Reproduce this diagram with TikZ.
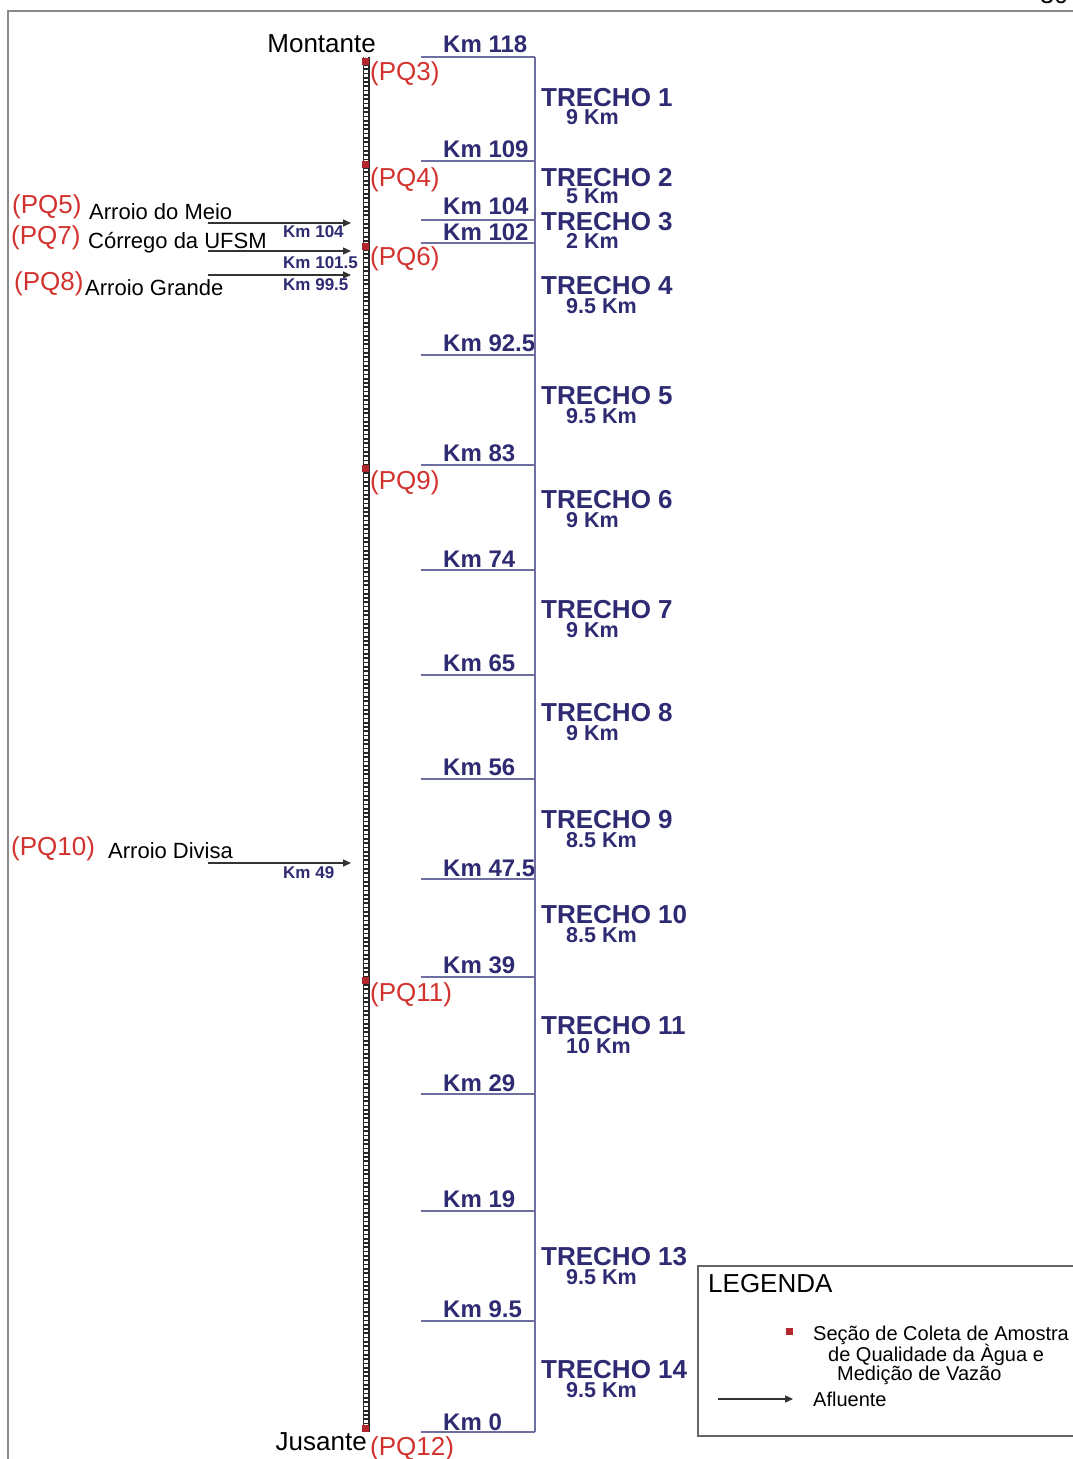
\documentclass[tikz,border=0pt]{standalone}
\usepackage{fontspec}
\setmainfont{Liberation Sans}
\usetikzlibrary{arrows.meta}
\definecolor{navy}{HTML}{2E2B72}
\definecolor{pqred}{HTML}{D2322E}
\definecolor{kmline}{HTML}{6E6EA0}
\definecolor{framegray}{HTML}{8A8A8A}
\definecolor{sample}{HTML}{B3262B}
\newcommand\fsz[1]{\fontsize{#1}{#1}\selectfont}
\begin{document}
\begin{tikzpicture}[x=1pt,y=-1pt,
 txt/.style={inner sep=0pt, anchor=base west},
 kmlab/.style={txt, font=\fsz{24}\bfseries, text=navy, text depth=0pt},
 trlab/.style={txt, font=\fsz{26}\bfseries, text=navy, text depth=0pt},
 trsub/.style={txt, font=\fsz{21.5}\bfseries, text=navy, text height=14pt},
 pqlab/.style={txt, font=\fsz{26}, text=pqred},
 triblab/.style={txt, font=\fsz{22}, text=black},
 kmsmall/.style={txt, font=\fsz{17}\bfseries, text=navy},
 kmtick/.style={draw=kmline, line width=1.3pt},
 afl/.style={draw=black!80, line width=1.4pt, -{Triangle[length=8pt,width=7pt]}},
 sq/.style={fill=sample, draw=none, minimum width=7pt, minimum height=7pt, inner sep=0pt},
 leg/.style={txt, font=\fsz{20}, text=black}
]
\useasboundingbox (0,0) rectangle (1073,1459);
% frame
\coordinate (f1) at (8,1470);
\coordinate (f2) at (8,11);
\coordinate (f3) at (1080,11);
\draw[framegray, line width=2pt] (f1) -- (f2) -- (f3);
\node[anchor=base east, inner sep=0pt, font=\fsz{25}] (pagenum) at (1068,3.5) {36};

% km ticks and labels
\foreach \y/\lab/\b [count=\i] in {57/118/52, 161/109/157, 220/104/214, 243/102/240, 355/92.5/351, 465/83/461, 570/74/567, 675/65/671, 779/56/775, 879/47.5/876, 977/39/973, 1094/29/1091, 1211/19/1207, 1321/9.5/1317, 1432/0/1430} {
  \coordinate (ta\i) at (421,\y);
  \coordinate (tb\i) at (535,\y);
  \draw[kmtick] (ta\i) -- (tb\i);
  \node[kmlab] (km\i) at (443,\b) {Km \lab};
}
\draw[kmtick] (tb1) -- (tb15);

% trechos
\foreach \n/\s/\ya/\yb [count=\i] in {1/9 Km/106/124, 2/5 Km/186/203, 3/2 Km/230/248, 4/9.5 Km/294/313, 5/9.5 Km/404/423, 6/9 Km/508/527, 7/9 Km/618/637, 8/9 Km/721/740, 9/8.5 Km/828/847, 10/8.5 Km/923/942, 11/10 Km/1034/1053, 13/9.5 Km/1265/1284, 14/9.5 Km/1378/1397} {
  \node[trlab] (tr\i) at (541,\ya) {TRECHO \n};
  \node[trsub] (trs\i) at (566,\yb) {\s};
}

% river bar
\coordinate (rtop) at (366,57);
\coordinate (rbot) at (366,1432);
\draw[black!85, line width=7pt] (rtop) -- (rbot);
\draw[white, line width=3.4pt, dash pattern=on 2.6pt off 1.7pt] (rtop) -- (rbot);
\foreach \y/\nm in {61/s3, 164/s4, 246/s6, 468/s9, 980/s11, 1428/s12} {
  \node[sq] (\nm) at (365,\y) {};
}
\node[txt, anchor=base east, font=\fsz{26}] (mont) at (376,52) {Montante};
\node[txt, anchor=base east, font=\fsz{26}] (jus) at (367,1450) {Jusante};
\node[pqlab] (pq3) at (370,80) {(PQ3)};
\node[pqlab] (pq4) at (370,186) {(PQ4)};
\node[pqlab] (pq6) at (370,265) {(PQ6)};
\node[pqlab] (pq9) at (370,489) {(PQ9)};
\node[pqlab] (pq11) at (370,1001) {(PQ11)};
\node[pqlab] (pq12) at (370,1455) {(PQ12)};

% tributaries
\coordinate (a1s) at (208,223); \coordinate (a1e) at (351,223);
\coordinate (a2s) at (208,251); \coordinate (a2e) at (351,251);
\coordinate (a3s) at (208,275); \coordinate (a3e) at (351,275);
\coordinate (a4s) at (208,863); \coordinate (a4e) at (351,863);
\draw[afl] (a1s) -- (a1e);
\draw[afl] (a2s) -- (a2e);
\draw[afl] (a3s) -- (a3e);
\draw[afl] (a4s) -- (a4e);
\node[pqlab] (pq5) at (12,213) {(PQ5)};
\node[triblab] (t1) at (89,219) {Arroio do Meio};
\node[pqlab] (pq7) at (11,244) {(PQ7)};
\node[triblab] (t2) at (88,248) {Córrego da UFSM};
\node[pqlab] (pq8) at (14,290) {(PQ8)};
\node[triblab] (t3) at (85,295) {Arroio Grande};
\node[pqlab] (pq10) at (11,855) {(PQ10)};
\node[triblab] (t4) at (108,858) {Arroio Divisa};
\node[kmsmall] (k1) at (283,237) {Km 104};
\node[kmsmall] (k2) at (283,268) {Km 101.5};
\node[kmsmall] (k3) at (283,290) {Km 99.5};
\node[kmsmall] (k4) at (283,878) {Km 49};

% legend
\coordinate (l1) at (1080,1266);
\coordinate (l2) at (698,1266);
\coordinate (l3) at (698,1436);
\coordinate (l4) at (1080,1436);
\draw[black!60, line width=1.5pt] (l1) -- (l2) -- (l3) -- (l4);
\node[txt, font=\fsz{26}] (legt) at (708,1292) {LEGENDA};
\node[sq] (legsq) at (789,1331) {};
\node[leg] (lg1) at (813,1340) {Seção de Coleta de Amostra};
\node[leg] (lg2) at (828,1361) {de Qualidade da Àgua e};
\node[leg] (lg3) at (837,1380) {Medição de Vazão};
\coordinate (la1) at (718,1399);
\coordinate (la2) at (793,1399);
\draw[afl] (la1) -- (la2);
\node[leg] (lg4) at (813,1406) {Afluente};
\end{tikzpicture}
\end{document}
